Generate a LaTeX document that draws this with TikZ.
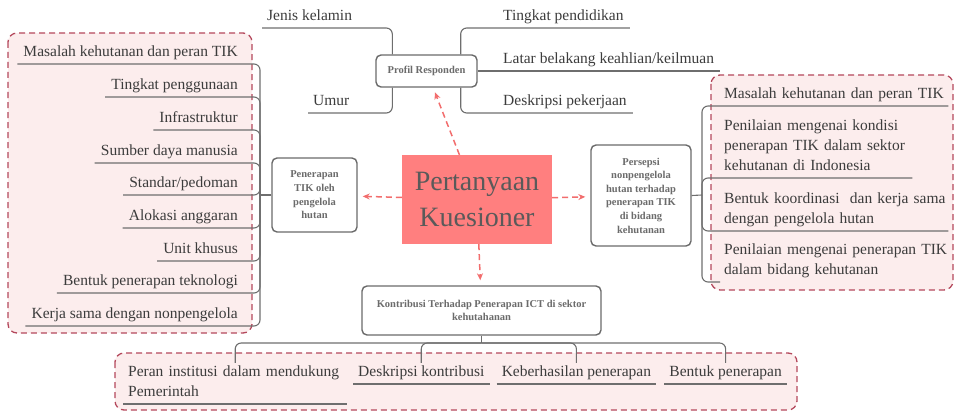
\documentclass[tikz,border=0pt]{standalone}
\usepackage{fontspec}
\setmainfont{Liberation Serif}
\usetikzlibrary{arrows.meta,positioning}

\definecolor{grpline}{HTML}{B4485C}
\definecolor{grpfill}{HTML}{FCEDED}
\definecolor{linegray}{HTML}{6E6E6E}
\definecolor{boxline}{HTML}{6A6A6A}
\definecolor{labelgray}{HTML}{6B6B6B}
\definecolor{itemtext}{HTML}{3C3C3C}
\definecolor{corefill}{HTML}{FF7F7F}
\definecolor{coretext}{HTML}{5A5A5A}
\definecolor{linkred}{HTML}{F26D6D}

\begin{document}
\begin{tikzpicture}[
      x=1pt, y=-1pt,
      grp/.style={draw=grpline, fill=grpfill, dash pattern=on 6pt off 4pt,
        line width=1.3pt, rounded corners=9pt},
      core/.style={fill=corefill, text=coretext, align=center, inner sep=0pt,
        minimum width=150pt, minimum height=89pt,
        font=\fontsize{28}{36}\selectfont},
      topic/.style={draw=boxline, fill=white, line width=1.4pt, rounded corners=5pt,
        align=center, text=labelgray, inner sep=2pt,
        font=\bfseries\fontsize{10.5}{13.6}\selectfont},
      item/.style={text=itemtext, inner xsep=6pt, inner ysep=3pt, text depth=4pt,
        font=\fontsize{15.5}{20}\selectfont},
      % multi-line items: depth reaches down to the last line
      twoline/.style={item, align=left, text depth=24pt},
      threeline/.style={item, align=left, text depth=44pt},
      branch/.style={draw=linegray, line width=1.1pt, rounded corners=6pt},
      link/.style={draw=linkred, dash pattern=on 6pt off 4pt, line width=1.5pt,
        -{Stealth[length=7pt, width=6pt]}, shorten >=5pt},
    ]
    \useasboundingbox (0,0) rectangle (956,412);

    % dashed groups sit behind the branches
    \draw[grp] (8,33) rectangle (252,333);
    \draw[grp] (711,75) rectangle (953,290);
    \draw[grp] (115,353) rectangle (797,410);

    % central question and the four topics
    \node[core] (q) at (477,199.5) {Pertanyaan\\Kuesioner};
    \node[topic, minimum width=101pt, minimum height=32pt] (prof) at (426.5,71)
      {Profil Responden};
    \node[topic, minimum width=85pt, minimum height=74pt] (pen) at (314.5,195)
      {Penerapan\\TIK oleh\\pengelola\\hutan};
    \node[topic, minimum width=100pt, minimum height=101pt] (per) at (641,195.5)
      {Persepsi\\nonpengelola\\hutan terhadap\\penerapan TIK\\di bidang\\kehutanan};
    \node[topic, minimum width=239pt, minimum height=49pt] (kon) at (481.5,310.5)
      {Kontribusi Terhadap Penerapan ICT di sektor\\kehutahanan};

    \draw[link] (q) -- (prof);
    \draw[link] (q) -- (pen);
    \draw[link] (q) -- (per);
    \draw[link] (q) -- (kon);

    % respondent profile
    \node[item, anchor=south west, inner xsep=5pt] (p1) at (262,28) {Jenis kelamin};
    \node[item, anchor=south west, inner xsep=5pt] (p2) at (308,113) {Umur};
    \node[item, anchor=south west] (p3) at (497,28) {Tingkat pendidikan};
    \node[item, anchor=south west] (p4) at (497,71) {Latar belakang keahlian/keilmuan};
    \node[item, anchor=south west] (p5) at (497,113) {Deskripsi pekerjaan};
    \draw[branch] ([xshift=17pt]prof.north west) |- (p1.south east) -- (p1.south west);
    \draw[branch] ([xshift=17pt]prof.south west) |- (p2.south east) -- (p2.south west);
    \draw[branch] ([xshift=-17pt]prof.north east) |- (p3.south west) -- (p3.south east);
    \draw[branch] (prof.east) -- (p4.south west) -- (p4.south east);
    \draw[branch] ([xshift=-17pt]prof.south east) |- (p5.south west) -- (p5.south east);

    % left group: managers
    \coordinate (lspine) at (260,195);
    \draw[branch] (pen.west) -- (lspine);
    \foreach \txt/\yy [count=\i] in {Masalah kehutanan dan peran TIK/64,
        Tingkat penggunaan/97, Infrastruktur/130, Sumber daya manusia/163,
        {Standar/pedoman}/195, Alokasi anggaran/228, Unit khusus/261,
        Bentuk penerapan teknologi/293, Kerja sama dengan nonpengelola/326}{
      \node[item, anchor=south east] (l\i) at (244,\yy) {\txt};
      \draw[branch] (lspine) |- (l\i.south east) -- (l\i.south west);
    }

    % right group: non-managers
    \coordinate (rspine) at (702,195);
    \draw[branch] (per.east) -- (rspine);
    \node[item, anchor=south west, inner xsep=4pt, text width=220pt, align=left] (r1)
      at (720,106) {\mbox{Masalah kehutanan dan peran TIK}};
    \node[threeline, anchor=south west, inner xsep=4pt, text width=184pt] (r2)
      at (720,178) {Penilaian mengenai kondisi\\\mbox{penerapan TIK dalam sektor}\\kehutanan di Indonesia};
    \node[twoline, anchor=south west, inner xsep=4pt, text width=220pt] (r3)
      at (720,231) {\mbox{Bentuk koordinasi\ \ dan kerja sama}\\dengan pengelola hutan};
    \node[twoline, anchor=south west, inner xsep=4pt, text width=220pt] (r4)
      at (720,282) {\mbox{Penilaian mengenai penerapan TIK}\\dalam bidang kehutanan};
    \foreach \i in {1,2,3}
      \draw[branch] (rspine) |- (r\i.south west) -- (r\i.south east);
    \draw[branch] (rspine) |- (r4.south west);

    % bottom group: contribution
    \coordinate (kspine) at (481.5,343);
    \draw[branch] (kon) -- (kspine);
    \node[twoline, anchor=south west, inner xsep=5pt, text width=214pt] (b1)
      at (123,404) {\mbox{Peran institusi dalam mendukung}\\Pemerintah};
    \node[item, anchor=south west, inner xsep=5pt] (b2) at (353,384) {Deskripsi kontribusi};
    \node[item, inner xsep=5pt, right=7pt of b2] (b3) {Keberhasilan penerapan};
    \node[item, inner xsep=5pt, right=8pt of b3] (b4) {Bentuk penerapan};
    \foreach \i in {1,...,4}{
      \draw[branch] (kspine) -| (b\i.north);
      \draw[branch] (b\i.south west) -- (b\i.south east);
    }
  \end{tikzpicture}
\end{document}
